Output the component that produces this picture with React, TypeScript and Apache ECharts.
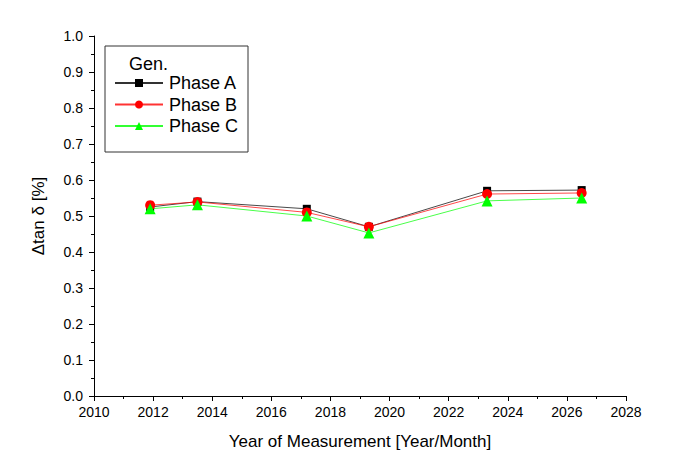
import React, { useEffect, useRef } from "react";
import * as echarts from "echarts";

const years = [2011.9, 2013.5, 2017.2, 2019.3, 2023.3, 2026.5];
const phaseA = [0.525, 0.54, 0.52, 0.47, 0.57, 0.572];
const phaseB = [0.53, 0.539, 0.51, 0.47, 0.561, 0.564];
const phaseC = [0.52, 0.531, 0.5, 0.453, 0.542, 0.55];
const seriesNames = ["Phase A", "Phase B", "Phase C"];
const legendTitle = "Gen.";
const xName = "Year of Measurement [Year/Month]";
const yName = "\u0394tan \u03b4 [%]";

const FONT = "Liberation Sans, Arial, sans-serif";

export default function App() {
  const ref = useRef<HTMLDivElement>(null);
  useEffect(() => {
    if (!ref.current) return;
    const chart = echarts.init(ref.current, undefined, { renderer: "svg" });
    const mk = (vals: number[]) => years.map((y, i) => [y, vals[i]]);
    const baseSeries = (name: string, vals: number[], color: string, symbol: string, size: number) => ({
      name,
      type: "line",
      data: mk(vals),
      symbol,
      symbolSize: size,
      lineStyle: { color, width: 0.9, opacity: 0.8 },
      itemStyle: { color },
      emphasis: { disabled: true },
    });
    chart.setOption({
      animation: false,
      textStyle: { fontFamily: FONT },
      grid: { left: 86, top: 28, right: 45, bottom: 71 },
      xAxis: {
        type: "value",
        min: 2010,
        max: 2028,
        interval: 2,
        name: xName,
        nameLocation: "middle",
        nameGap: 37,
        nameTextStyle: { fontSize: 17, color: "#000", fontFamily: FONT },
        axisLine: { show: true, onZero: false, lineStyle: { color: "#000", width: 1 } },
        axisTick: { show: true, inside: false, length: 5, lineStyle: { color: "#000" } },
        minorTick: { show: true, splitNumber: 2, length: 3, lineStyle: { color: "#000" } },
        axisLabel: { color: "#000", fontSize: 14, margin: 9, fontFamily: FONT, formatter: (v: number) => String(v) },
        splitLine: { show: false },
      },
      yAxis: {
        type: "value",
        min: 0,
        max: 1,
        interval: 0.1,
        name: yName,
        nameLocation: "middle",
        nameRotate: 90,
        nameGap: 47,
        nameTextStyle: { fontSize: 17, color: "#000", fontFamily: FONT },
        axisLine: { show: true, onZero: false, lineStyle: { color: "#000", width: 1 } },
        axisTick: { show: true, inside: false, length: 5, lineStyle: { color: "#000" } },
        minorTick: { show: true, splitNumber: 2, length: 3, lineStyle: { color: "#000" } },
        axisLabel: {
          color: "#000",
          fontSize: 14,
          margin: 11,
          fontFamily: FONT,
          formatter: (v: number) => v.toFixed(1),
        },
        splitLine: { show: false },
      },
      legend: {
        orient: "vertical",
        left: 101,
        top: 61,
        itemWidth: 48,
        itemHeight: 10,
        itemGap: 3.5,
        data: seriesNames,
        textStyle: { fontSize: 18, color: "#000", fontFamily: FONT, padding: [0, 0, 0, 1] },
        selectedMode: false,
      },
      graphic: [
        {
          type: "rect",
          shape: { x: 97, y: 38, width: 143, height: 106 },
          style: { fill: "none", stroke: "#333", lineWidth: 1 },
          z: 0,
        },
        {
          type: "text",
          x: 121,
          y: 47,
          style: { text: legendTitle, fontSize: 18, fill: "#000", fontFamily: FONT },
        },
      ],
      series: [
        baseSeries(seriesNames[0], phaseA, "#000000", "rect", 8),
        baseSeries(seriesNames[1], phaseB, "#ff0000", "circle", 10),
        baseSeries(seriesNames[2], phaseC, "#00ff00", "triangle", 11),
      ],
    });
    return () => chart.dispose();
  }, []);
  return <div ref={ref} style={{ width: 663, height: 459 }} />;
}
